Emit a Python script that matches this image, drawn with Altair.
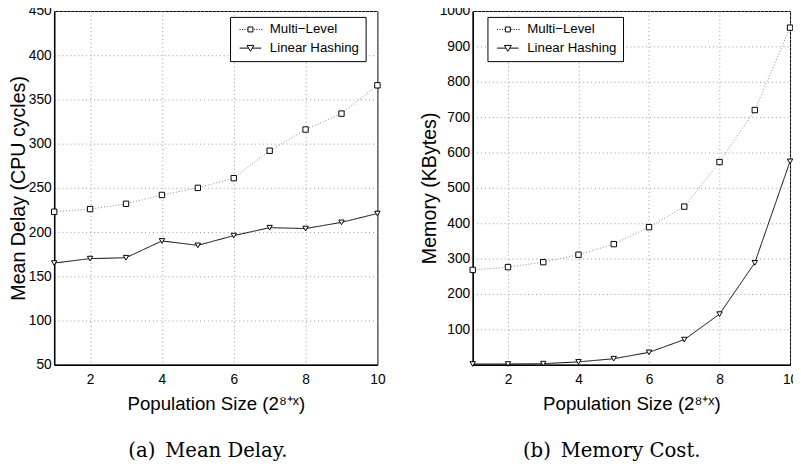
import altair as alt
import pandas as pd

x_vals = [1, 2, 3, 4, 5, 6, 7, 8, 9, 10]
series_names = ["Multi\u2212Level", "Linear Hashing"]
delay_multi = [223, 226, 232, 242, 250, 261, 292, 316, 334, 366]
delay_linear = [165, 170, 171, 190, 185, 196, 205, 204, 211, 221]
mem_multi = [268, 276, 290, 311, 341, 389, 447, 573, 720, 953]
mem_linear = [2, 2, 3, 8, 17, 35, 71, 143, 288, 575]
x_ticks = [2, 4, 6, 8, 10]
delay_ticks = [50, 100, 150, 200, 250, 300, 350, 400, 450]
mem_ticks = [100, 200, 300, 400, 500, 600, 700, 800, 900, 1000]
x_title = "Population Size (2\u2078\u207a\u02e3)"
captions = ["(a)\u2002Mean Delay.", "(b)\u2002Memory Cost."]

SANS = "Liberation Sans"

# legend glyphs: line sample + marker (unit coords, 5 px per unit)
LEG_MULTI = ("M-0.6,0h0.2M-0.1,0h0.2M0.4,0h0.2M0.9,0h0.15"
             "M1.1,-0.5H2.1V0.5H1.1Z"
             "M2.3,0h0.2M2.8,0h0.2M3.3,0h0.2M3.8,0h0.2")
LEG_LINEAR = ("M-0.6,0H1.22M1.98,0H3.8"
              "M0.9,-0.55H2.3L1.6,0.65Z")


def make_df(a, b):
    rows = []
    for x, v in zip(x_vals, a):
        rows.append({"x": x, "v": v, "series": series_names[0]})
    for x, v in zip(x_vals, b):
        rows.append({"x": x, "v": v, "series": series_names[1]})
    return pd.DataFrame(rows)


def panel(df, ydom, yticks, ytitle, w, legx, caption, cap_dx):
    xenc = alt.X(
        "x:Q",
        scale=alt.Scale(domain=[1, 10], nice=False, zero=False),
        axis=alt.Axis(values=x_ticks, title=x_title, titleFont=SANS,
                      titleFontSize=19, titleFontWeight="normal",
                      titlePadding=9, labelPadding=8, tickCount=12,
                      labelFlush=False),
    )
    yenc = alt.Y(
        "v:Q",
        scale=alt.Scale(domain=ydom, nice=False, zero=False),
        axis=alt.Axis(values=yticks, title=ytitle, titleFont=SANS,
                      titleFontSize=20, titleFontWeight="normal",
                      titlePadding=0, labelPadding=3, labelOverlap=False,
                      tickCount=12, format="d"),
    )
    lines = alt.Chart(df).mark_line(strokeWidth=1).encode(
        x=xenc,
        y=yenc,
        color=alt.Color("series:N",
                        scale=alt.Scale(domain=series_names, range=["#8a8a8a", "#000000"]),
                        legend=None),
        strokeDash=alt.StrokeDash("series:N",
                                  scale=alt.Scale(domain=series_names, range=[[1, 2], [1, 0]]),
                                  legend=None),
    )
    points = alt.Chart(df).mark_point(
        filled=True, fill="white", stroke="black", strokeWidth=1, opacity=1
    ).encode(
        x="x:Q",
        y="v:Q",
        shape=alt.Shape("series:N",
                        scale=alt.Scale(domain=series_names, range=["square", "triangle-down"]),
                        legend=None),
        size=alt.value(30),
    )
    leg = alt.Legend(
        orient="none", legendX=legx, legendY=6, title=None,
        strokeColor="black", fillColor="white", padding=6,
        symbolSize=100, symbolStrokeWidth=1,
        symbolStrokeColor="black",
        labelFont=SANS, labelFontSize=13.5, labelColor="black",
        labelOffset=21, labelLimit=0, rowPadding=4,
    )
    legend_layer = alt.Chart(df).transform_filter("false").mark_point(
        filled=False, color="black", strokeWidth=1, opacity=1
    ).encode(
        x="x:Q",
        y="v:Q",
        shape=alt.Shape("series:N",
                        scale=alt.Scale(domain=series_names, range=[LEG_MULTI, LEG_LINEAR]),
                        legend=leg),
    )
    return alt.layer(lines, points, legend_layer).resolve_scale(
        shape="independent"
    ).properties(
        width=w, height=360,
        title=alt.TitleParams(caption, orient="bottom", font="DejaVu Serif",
                              fontSize=20, fontWeight="normal", offset=28, dx=cap_dx),
    )


left = panel(make_df(delay_multi, delay_linear), [50, 450], delay_ticks,
             "Mean Delay (CPU cycles)", 329, 179, captions[0], -8)
right = panel(make_df(mem_multi, mem_linear), [0, 1000], mem_ticks,
              "Memory (KBytes)", 323, 15, captions[1], -20)

chart = alt.hconcat(left, right, spacing=33).properties(
    padding={"left": 0, "top": -9, "right": -6, "bottom": 0}
).configure_view(stroke="black", strokeWidth=1).configure_axis(
    labelFont=SANS, labelFontSize=14, labelColor="black",
    titleColor="black", grid=True, gridColor="#999999", gridDash=[1, 3],
    gridWidth=1, ticks=False, domain=True, domainColor="black", domainWidth=1.5,
).configure_title(color="black")

chart.save("out.html", embed_options={"renderer": "svg", "actions": False})
